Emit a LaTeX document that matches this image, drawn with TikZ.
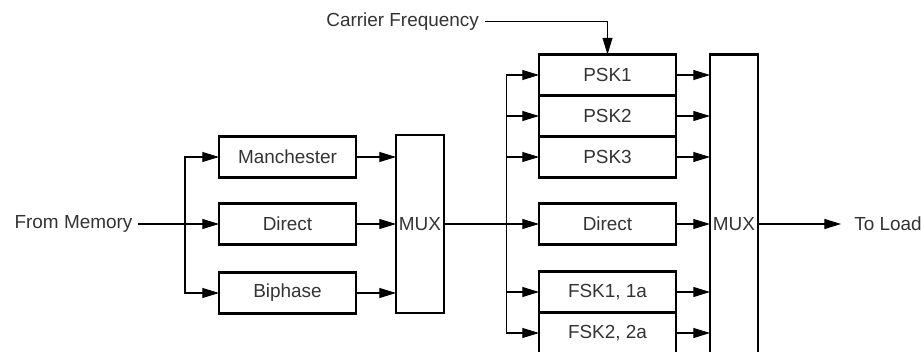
\documentclass[tikz,border=0pt]{standalone}
\usepackage{fontspec}
\setmainfont{Liberation Sans}
\usetikzlibrary{arrows.meta, positioning, calc}
\definecolor{txtgray}{HTML}{333333}

\begin{document}
\begin{tikzpicture}[
  box/.style={draw, line width=1.9pt, outer sep=0pt, inner sep=2pt,
    minimum width=102.75pt, minimum height=30.75pt, text=txtgray,
    font=\fontsize{14.2pt}{17pt}\selectfont},
  mux/.style={box, minimum width=36pt, inner sep=1pt},
  arrow/.style={-{Triangle[length=12.5pt, width=7.5pt]}, line width=0.8pt},
  lbl/.style={inner sep=4pt, text=txtgray, font=\fontsize{14.2pt}{17pt}\selectfont}
]

  % frame (image is cut at the bottom)
  \useasboundingbox (-215.625pt,168pt) rectangle (475.125pt,-95.25pt);
  \clip (-215.625pt,168pt) rectangle (475.125pt,-95.25pt);

  % --- Encoding stage ---
  \node[box] (direct1) at (0,0) {Direct};
  \node[box, above=19.5pt of direct1] (manch) {Manchester};
  \node[box, below=21pt of direct1] (biphase) {Biphase};
  \node[mux, minimum height=133.5pt, right=30pt of direct1] (mux1) {MUX};

  % --- Modulation stage ---
  \node[box, right=71.25pt of mux1] (direct2) {Direct};
  \node[box, above=19.5pt of direct2] (psk3) {PSK3};
  \node[box, above=0pt of psk3] (psk2) {PSK2};
  \node[box, above=0pt of psk2] (psk1) {PSK1};
  \node[box, below=20.25pt of direct2] (fsk1) {FSK1, 1a};
  \node[box, below=0pt of fsk1] (fsk2) {FSK2, 2a};
  \node[mux, minimum height=225pt, below right=0pt and 25.5pt of psk1.north east] (mux2) {};
  \node[lbl, inner sep=0pt] (mux2txt) at (mux2 |- direct2) {MUX};

  % --- Inputs / outputs ---
  \node[lbl, left=60.75pt of direct1.west] (frommem) {From Memory};
  \node[lbl, above left=24.75pt and 92.25pt of psk1.north, anchor=east] (carrier) {Carrier Frequency};
  \coordinate (loadtip) at ($(mux2.east |- direct2)+(62.25pt,0)$);
  \node[lbl, right=5.75pt of loadtip] (toload) {To Load};

  % branch points
  \coordinate[left=25.5pt of direct1.west] (split1);
  \coordinate[left=24.75pt of direct2.west] (split2);

  % From Memory -> encoders
  \draw[arrow] (frommem) -- (direct1);
  \draw[arrow] (split1) |- (manch);
  \draw[arrow] (split1) |- (biphase);

  % encoders -> MUX
  \foreach \n in {manch, direct1, biphase}
    \draw[arrow] (\n) -- (\n -| mux1.west);

  % MUX -> modulators
  \draw[arrow] (mux1) -- (direct2);
  \draw (split2 |- psk1) -- (split2 |- fsk2);
  \foreach \n in {psk1, psk2, psk3, fsk1, fsk2}
    \draw[arrow] (split2 |- \n) -- (\n);

  % carrier
  \draw[arrow] (carrier) -| (psk1.north);

  % modulators -> MUX
  \foreach \n in {psk1, psk2, psk3, direct2, fsk1, fsk2}
    \draw[arrow] (\n) -- (\n -| mux2.west);

  % MUX -> load
  \draw[arrow] (mux2.east |- direct2) -- (loadtip);

\end{tikzpicture}
\end{document}
